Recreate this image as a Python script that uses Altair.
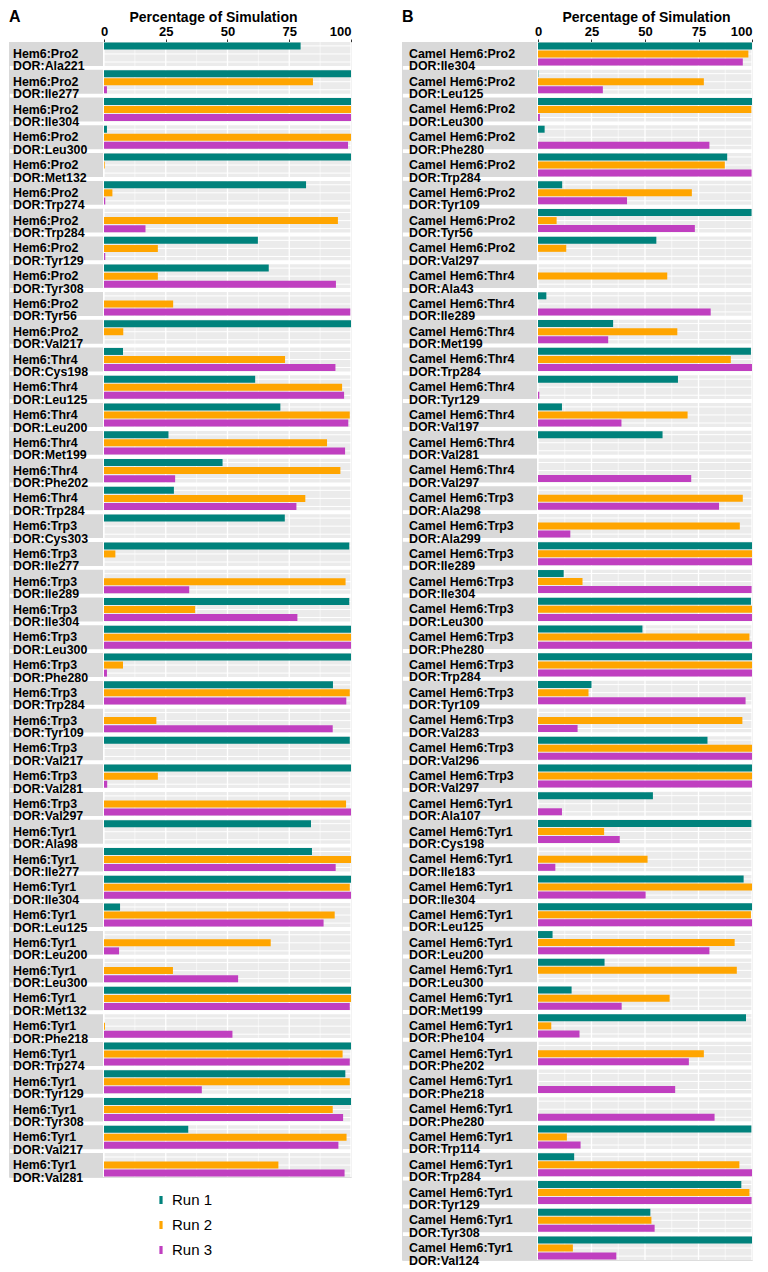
import altair as alt
import pandas as pd

runs = ["Run 1", "Run 2", "Run 3"]
run_colors = ["#00827C", "#FFA500", "#C03FC0"]
major_ticks = [0, 25, 50, 75, 100]
minor_ticks = [12.5, 37.5, 62.5, 87.5]

# ---------------- Panel A ----------------
a_ligand = [
    "Hem6:Pro2", "Hem6:Pro2", "Hem6:Pro2", "Hem6:Pro2", "Hem6:Pro2", "Hem6:Pro2",
    "Hem6:Pro2", "Hem6:Pro2", "Hem6:Pro2", "Hem6:Pro2", "Hem6:Pro2",
    "Hem6:Thr4", "Hem6:Thr4", "Hem6:Thr4", "Hem6:Thr4", "Hem6:Thr4", "Hem6:Thr4",
    "Hem6:Trp3", "Hem6:Trp3", "Hem6:Trp3", "Hem6:Trp3", "Hem6:Trp3", "Hem6:Trp3",
    "Hem6:Trp3", "Hem6:Trp3", "Hem6:Trp3", "Hem6:Trp3", "Hem6:Trp3",
    "Hem6:Tyr1", "Hem6:Tyr1", "Hem6:Tyr1", "Hem6:Tyr1", "Hem6:Tyr1", "Hem6:Tyr1",
    "Hem6:Tyr1", "Hem6:Tyr1", "Hem6:Tyr1", "Hem6:Tyr1", "Hem6:Tyr1", "Hem6:Tyr1",
    "Hem6:Tyr1",
]
a_residue = [
    "DOR:Ala221", "DOR:Ile277", "DOR:Ile304", "DOR:Leu300", "DOR:Met132", "DOR:Trp274",
    "DOR:Trp284", "DOR:Tyr129", "DOR:Tyr308", "DOR:Tyr56", "DOR:Val217",
    "DOR:Cys198", "DOR:Leu125", "DOR:Leu200", "DOR:Met199", "DOR:Phe202", "DOR:Trp284",
    "DOR:Cys303", "DOR:Ile277", "DOR:Ile289", "DOR:Ile304", "DOR:Leu300", "DOR:Phe280",
    "DOR:Trp284", "DOR:Tyr109", "DOR:Val217", "DOR:Val281", "DOR:Val297",
    "DOR:Ala98", "DOR:Ile277", "DOR:Ile304", "DOR:Leu125", "DOR:Leu200", "DOR:Leu300",
    "DOR:Met132", "DOR:Phe218", "DOR:Trp274", "DOR:Tyr129", "DOR:Tyr308", "DOR:Val217",
    "DOR:Val281",
]
a_run1 = [79.6, 100, 100, 1.2, 100, 81.8, 0, 62.3, 66.7, 0, 100,
          7.7, 61.2, 71.4, 26.1, 48, 28.3,
          73.2, 99.3, 0, 99.3, 100, 100, 92.7, 0, 99.5, 100, 0,
          83.8, 84.2, 100, 6.5, 0, 0, 100, 0, 100, 97.7, 100, 34.1, 0]
a_run2 = [0, 84.6, 100, 100, 0.3, 3.4, 94.7, 21.8, 21.8, 28, 7.8,
          73.3, 96.4, 99.5, 90.3, 95.7, 81.5,
          0, 4.6, 97.8, 36.9, 100, 7.7, 99.5, 21.2, 0, 21.8, 98,
          0, 100, 99.5, 93.4, 67.5, 27.9, 100, 0.4, 96.6, 99.5, 92.6, 98.2, 70.6]
a_run3 = [0, 1.2, 100, 98.8, 0, 0.5, 16.8, 0.5, 93.9, 99.7, 0,
          93.7, 97.2, 98.9, 97.6, 28.8, 77.9,
          0, 0, 34.5, 78.3, 100, 1.2, 98.1, 92.6, 0, 1.3, 100,
          0, 93.8, 100, 88.9, 6.1, 54.3, 99.5, 52, 99.5, 39.6, 96.8, 94.9, 97.4]

# ---------------- Panel B ----------------
b_ligand = [
    "Camel Hem6:Pro2", "Camel Hem6:Pro2", "Camel Hem6:Pro2", "Camel Hem6:Pro2",
    "Camel Hem6:Pro2", "Camel Hem6:Pro2", "Camel Hem6:Pro2", "Camel Hem6:Pro2",
    "Camel Hem6:Thr4", "Camel Hem6:Thr4", "Camel Hem6:Thr4", "Camel Hem6:Thr4",
    "Camel Hem6:Thr4", "Camel Hem6:Thr4", "Camel Hem6:Thr4", "Camel Hem6:Thr4",
    "Camel Hem6:Trp3", "Camel Hem6:Trp3", "Camel Hem6:Trp3", "Camel Hem6:Trp3",
    "Camel Hem6:Trp3", "Camel Hem6:Trp3", "Camel Hem6:Trp3", "Camel Hem6:Trp3",
    "Camel Hem6:Trp3", "Camel Hem6:Trp3", "Camel Hem6:Trp3",
    "Camel Hem6:Tyr1", "Camel Hem6:Tyr1", "Camel Hem6:Tyr1", "Camel Hem6:Tyr1",
    "Camel Hem6:Tyr1", "Camel Hem6:Tyr1", "Camel Hem6:Tyr1", "Camel Hem6:Tyr1",
    "Camel Hem6:Tyr1", "Camel Hem6:Tyr1", "Camel Hem6:Tyr1", "Camel Hem6:Tyr1",
    "Camel Hem6:Tyr1", "Camel Hem6:Tyr1", "Camel Hem6:Tyr1", "Camel Hem6:Tyr1",
    "Camel Hem6:Tyr1",
]
b_residue = [
    "DOR:Ile304", "DOR:Leu125", "DOR:Leu300", "DOR:Phe280", "DOR:Trp284", "DOR:Tyr109",
    "DOR:Tyr56", "DOR:Val297",
    "DOR:Ala43", "DOR:Ile289", "DOR:Met199", "DOR:Trp284", "DOR:Tyr129", "DOR:Val197",
    "DOR:Val281", "DOR:Val297",
    "DOR:Ala298", "DOR:Ala299", "DOR:Ile289", "DOR:Ile304", "DOR:Leu300", "DOR:Phe280",
    "DOR:Trp284", "DOR:Tyr109", "DOR:Val283", "DOR:Val296", "DOR:Val297",
    "DOR:Ala107", "DOR:Cys198", "DOR:Ile183", "DOR:Ile304", "DOR:Leu125", "DOR:Leu200",
    "DOR:Leu300", "DOR:Met199", "DOR:Phe104", "DOR:Phe202", "DOR:Phe218", "DOR:Phe280",
    "DOR:Trp114", "DOR:Trp284", "DOR:Tyr129", "DOR:Tyr308", "DOR:Val124",
]
b_run1 = [100, 0.2, 100, 3.1, 88.4, 11.3, 99.8, 55.3,
          0, 3.9, 35.1, 99.5, 65.4, 11.2, 58.2, 0,
          0, 0, 100, 12, 99.5, 48.8, 100, 25, 0, 79.2, 100,
          53.7, 99.7, 0, 96.1, 100, 6.8, 31.1, 15.7, 97.2, 0, 0, 0, 99.7, 16.9, 95, 52.5, 100]
b_run2 = [98.3, 77.5, 99.7, 0, 87.3, 71.9, 8.7, 13.2,
          60.4, 0, 65.1, 90.1, 0, 69.9, 0, 0,
          95.7, 94.3, 100, 20.8, 100, 98.8, 100, 23.6, 95.5, 100, 100,
          0, 30.9, 51.2, 100, 99.5, 91.9, 92.9, 61.5, 6.2, 77.5, 0, 0, 13.5, 94.1, 98.8, 53, 16.3]
b_run3 = [95.7, 30.3, 0.9, 80.1, 99.8, 41.6, 73.3, 0,
          0, 80.7, 32.8, 100, 0.6, 39, 0, 71.6,
          84.6, 15.1, 100, 99.8, 100, 100, 100, 97, 18.5, 100, 100,
          11.2, 38.2, 8.1, 50.3, 100, 80.1, 0, 39.1, 19.4, 70.5, 64.1, 82.5, 19.9, 100, 99.8, 54.5, 36.6]

FONT = "Liberation Sans"


def make_frames(lig, res, r1, r2, r3):
    cats = [f"{l}\n{r}" for l, r in zip(lig, res)]
    rows = []
    for c, v1, v2, v3 in zip(cats, r1, r2, r3):
        for run, v in zip(runs, (v1, v2, v3)):
            rows.append({"cat": c, "run": run, "value": v})
    return cats, pd.DataFrame(rows)


legend_def = alt.Legend(
    orient="none", legendX=144, legendY=1150, title=None,
    symbolType="M-0.2,-0.5H0.2V0.5H-0.2Z", symbolSize=256, symbolStrokeWidth=0,
    symbolOpacity=1, labelFontSize=15, labelFont=FONT, labelColor="black",
    rowPadding=9, labelOffset=3, direction="vertical", padding=0,
)


def panel(lig, res, r1, r2, r3, letter, strip_w, bar_w, h, text_x, title_x):
    cats, df = make_frames(lig, res, r1, r2, r3)
    cat_df = pd.DataFrame({"cat": cats})
    total_w = strip_w + 1 + bar_w
    # extend the x scale to the left so the label strip sits inside the view
    x_min = -(strip_w + 1) * 100.0 / bar_w
    yscale = alt.Scale(domain=cats, paddingInner=0.14, paddingOuter=0)
    ydef = alt.Y("cat:N", scale=yscale, axis=None, title=None)
    yoff = alt.YOffset("run:N", scale=alt.Scale(domain=runs, paddingInner=0.13, paddingOuter=0.05))
    xscale = alt.Scale(domain=[x_min, 100], nice=False, zero=False)
    xaxis = alt.Axis(orient="top", values=major_ticks, grid=False, domain=False,
                     ticks=True, tickSize=3, tickColor="#333333", tickWidth=1,
                     labelFontWeight="bold", labelFontSize=13, labelColor="black",
                     labelPadding=1, labelFont=FONT,
                     title="Percentage of Simulation", titleFontSize=14,
                     titleFontWeight="bold", titleColor="black", titlePadding=1,
                     titleFont=FONT, titleX=title_x)

    strip_bg = alt.Chart(cat_df).mark_rect(color="#D9D9D9").encode(
        y=ydef, x=alt.value(0), x2=alt.value(strip_w))
    strip_txt = alt.Chart(cat_df).mark_text(
        align="left", baseline="middle", lineBreak="\n", fontWeight="bold",
        fontSize=12.4, lineHeight=12.5, color="black", font=FONT).encode(
        y=ydef, x=alt.value(text_x), text="cat:N")
    letter_txt = alt.Chart(pd.DataFrame({"letter": [letter]})).mark_text(
        align="left", baseline="alphabetic", fontWeight="bold", fontSize=16,
        color="black", font=FONT).encode(
        x=alt.value(0), y=alt.value(-20), text="letter:N")

    bg = alt.Chart(cat_df).mark_rect(color="#EBEBEB").encode(
        y=ydef,
        x=alt.XDatum(0, type="quantitative", scale=xscale, axis=xaxis),
        x2=alt.datum(100))
    gmaj = alt.Chart(pd.DataFrame({"g": major_ticks})).mark_rule(
        color="white", strokeWidth=1.3).encode(
        x=alt.X("g:Q", scale=xscale, axis=xaxis), y=alt.value(0), y2=alt.value(h))
    gmin = alt.Chart(pd.DataFrame({"g": minor_ticks})).mark_rule(
        color="white", strokeWidth=0.6).encode(
        x=alt.X("g:Q", scale=xscale, axis=xaxis), y=alt.value(0), y2=alt.value(h))
    hlines = alt.Chart(df).mark_rule(color="white", strokeWidth=1).encode(
        y=ydef, yOffset=yoff,
        x=alt.XDatum(0, type="quantitative", scale=xscale, axis=xaxis),
        x2=alt.datum(100))
    bars = alt.Chart(df).mark_bar().encode(
        x=alt.X("value:Q", scale=xscale, axis=xaxis),
        y=ydef, yOffset=yoff,
        color=alt.Color("run:N", scale=alt.Scale(domain=runs, range=run_colors),
                        legend=legend_def))
    return alt.layer(strip_bg, strip_txt, letter_txt, bg, gmaj, gmin, hlines, bars).properties(
        width=total_w, height=h)


panelA = panel(a_ligand, a_residue, a_run1, a_run2, a_run3, "A", 94, 247, 1135, 4, 204)
panelB = panel(b_ligand, b_residue, b_run1, b_run2, b_run3, "B", 135, 214, 1218, 7, 244)

chart = alt.hconcat(panelA, panelB, spacing=48).properties(
    padding=0, background="white"
).configure_view(stroke=None).configure(font=FONT)

chart.save("out.html", embed_options={"renderer": "svg", "actions": False})
